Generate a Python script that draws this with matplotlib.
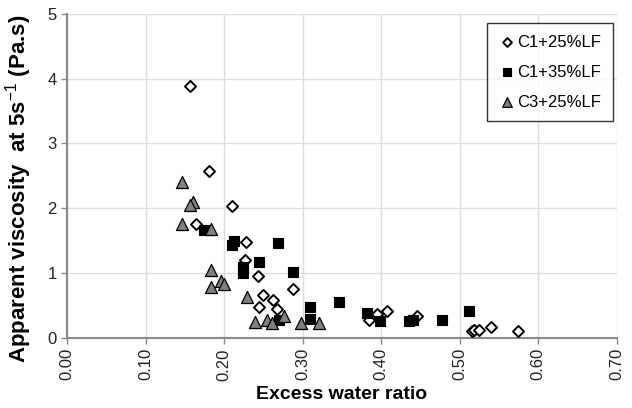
import matplotlib
matplotlib.use("Agg")
import matplotlib.pyplot as plt

plt.rcParams["font.family"] = ["Liberation Sans", "DejaVu Sans"]
plt.rcParams["mathtext.fontset"] = "custom"
plt.rcParams["mathtext.rm"] = "Liberation Sans"
plt.rcParams["mathtext.bf"] = "Liberation Sans:bold"

# ── data ──────────────────────────────────────────────────────────────────────

c1_25_x = [0.157, 0.181, 0.210, 0.164, 0.228, 0.226, 0.243, 0.249, 0.262, 0.244,
           0.267, 0.288, 0.384, 0.395, 0.408, 0.445, 0.516, 0.518, 0.525, 0.540, 0.574]
c1_25_y = [3.89, 2.58, 2.04, 1.75, 1.48, 1.20, 0.96, 0.66, 0.58, 0.47,
           0.45, 0.76, 0.28, 0.37, 0.42, 0.34, 0.11, 0.12, 0.12, 0.16, 0.11]

c1_35_x = [0.175, 0.213, 0.210, 0.269, 0.244, 0.224, 0.224, 0.288, 0.310, 0.309,
           0.270, 0.346, 0.382, 0.399, 0.436, 0.441, 0.477, 0.512]
c1_35_y = [1.66, 1.50, 1.44, 1.46, 1.17, 1.10, 1.00, 1.02, 0.47, 0.29,
           0.27, 0.55, 0.39, 0.26, 0.26, 0.28, 0.27, 0.42]

c3_25_x = [0.146, 0.160, 0.157, 0.146, 0.183, 0.183, 0.183, 0.196, 0.200, 0.229,
           0.239, 0.254, 0.261, 0.276, 0.298, 0.321]
c3_25_y = [2.41, 2.10, 2.05, 1.75, 1.68, 1.04, 0.78, 0.88, 0.83, 0.63,
           0.25, 0.28, 0.23, 0.33, 0.23, 0.23]

x_ticks = [0.0, 0.1, 0.2, 0.3, 0.4, 0.5, 0.6, 0.7]
y_ticks = [0, 1, 2, 3, 4, 5]

# ── plot ──────────────────────────────────────────────────────────────────────

fig = plt.figure(figsize=(6.32, 4.08), dpi=100)
ax = fig.add_axes([0.106, 0.172, 0.870, 0.794])

ax.scatter(c1_25_x, c1_25_y, marker="D", s=32, facecolor="white",
           edgecolor="black", linewidth=1.4, label="C1+25%LF", zorder=3)
ax.scatter(c1_35_x, c1_35_y, marker="s", s=42, facecolor="black",
           edgecolor="black", linewidth=0.8, label="C1+35%LF", zorder=3)
ax.scatter(c3_25_x, c3_25_y, marker="^", s=75, facecolor="#808080",
           edgecolor="black", linewidth=0.9, label="C3+25%LF", zorder=3)

ax.set_xlim(0, 0.7)
ax.set_ylim(0, 5)
ax.set_xticks(x_ticks)
ax.set_xticklabels([f"{v:.2f}" for v in x_ticks], rotation=90)
ax.set_yticks(y_ticks)
ax.tick_params(labelsize=12, labelcolor="#222222", color="#888888", length=4, width=1)

ax.grid(True, color="#dddddd", linewidth=1)
ax.set_axisbelow(True)
for s in ["top", "right"]:
    ax.spines[s].set_visible(False)
for s in ["left", "bottom"]:
    ax.spines[s].set_color("#888888")
    ax.spines[s].set_linewidth(1.5)

ax.set_xlabel("Excess water ratio", fontsize=14, fontweight="bold", labelpad=4)
ax.set_ylabel("Apparent viscosity  at 5s$^{\\mathrm{-1}}$ (Pa.s)", fontsize=16,
              fontweight="bold")
ax.yaxis.set_label_coords(-0.060, 0.46)

leg = ax.legend(loc="upper right", fontsize=12, frameon=True, fancybox=False,
                edgecolor="black", handletextpad=0.1, labelspacing=0.9,
                borderpad=0.7, handlelength=1.0, markerscale=0.8,
                borderaxespad=0, bbox_to_anchor=(0.993, 0.972))
leg.get_frame().set_linewidth(1.0)

fig.savefig("out.png", dpi=100)
